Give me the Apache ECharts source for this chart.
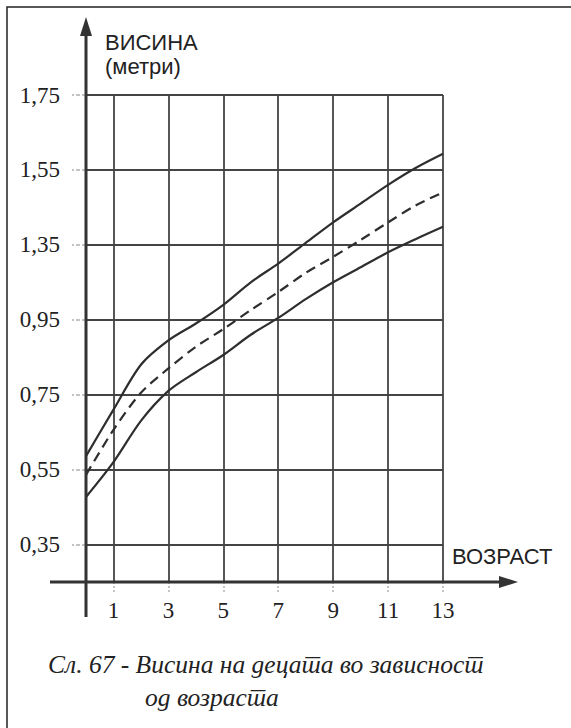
<!DOCTYPE html>
<html lang="mk">
<head>
<meta charset="utf-8">
<script src="https://cdn.jsdelivr.net/npm/echarts@6/dist/echarts.min.js"></script>
<style>
  html, body { margin: 0; padding: 0; background: #fff; }
  #chart { width: 571px; height: 728px; }
</style>
</head>
<body>
<div id="chart"></div>
<script>
// Age in years along the horizontal axis
const ages = [0, 1, 2, 3, 4, 5, 6, 7, 8, 9, 10, 11, 12, 13];

// Height curves, in vertical-axis units (one grid row = 0.1)
const upperHeight = [0.586, 0.71, 0.83, 0.895, 0.94, 0.99, 1.05, 1.10, 1.155, 1.21, 1.26, 1.31, 1.355, 1.393];
const meanHeight  = [0.536, 0.656, 0.755, 0.82, 0.878, 0.925, 0.976, 1.024, 1.075, 1.118, 1.163, 1.21, 1.255, 1.29];
const lowerHeight = [0.477, 0.57, 0.68, 0.76, 0.81, 0.856, 0.91, 0.955, 1.005, 1.05, 1.09, 1.13, 1.165, 1.198];

// Tick positions and the text printed at them
const yTickValues = [0.35, 0.55, 0.75, 0.95, 1.15, 1.35, 1.55];
const yTickLabels = ['0,35', '0,55', '0,75', '0,95', '1,35', '1,55', '1,75'];
const xTickValues = [1, 3, 5, 7, 9, 11, 13];

// Plot area layout
const G = { left: 86, top: 95, width: 357, height: 487 };
const baseY = G.top + G.height;
const INK = '#222';
const SERIF = '"Liberation Serif", "Times New Roman", serif';
const SANS = '"Liberation Sans", Arial, sans-serif';

const pairs = (ys) => ages.map((a, i) => [a, ys[i]]);
const findTick = (list, v) => list.findIndex(t => Math.abs(t - v) < 1e-6);

const chart = echarts.init(document.getElementById('chart'), null, { renderer: 'svg' });

const curve = (name, ys, dashed) => ({
  name,
  type: 'line',
  data: pairs(ys),
  smooth: 0.3,
  showSymbol: false,
  silent: true,
  z: 5,
  lineStyle: { color: '#2e2e2e', width: 2.2, type: dashed ? [10, 6] : 'solid' }
});

chart.setOption({
  animation: false,
  backgroundColor: '#fff',
  textStyle: { fontFamily: SERIF },
  title: [
    {
      text: 'ВИСИНА\n(метри)',
      left: 105, top: 30, padding: 0,
      textStyle: { fontFamily: SANS, fontSize: 22, fontWeight: 'normal', color: INK, lineHeight: 24 }
    },
    {
      text: 'ВОЗРАСТ',
      left: 452, top: 545, padding: 0,
      textStyle: { fontFamily: SANS, fontSize: 22, fontWeight: 'normal', color: INK }
    },
    {
      text: 'Сл. 67 - Висина на децата во зависност',
      left: 48, top: 651, padding: 0,
      textStyle: { fontFamily: SERIF, fontStyle: 'italic', fontSize: 25.5, fontWeight: 'normal', color: INK }
    },
    {
      text: 'од возраста',
      left: 145, top: 684, padding: 0,
      textStyle: { fontFamily: SERIF, fontStyle: 'italic', fontSize: 25.5, fontWeight: 'normal', color: INK }
    }
  ],
  grid: { left: G.left, top: G.top, width: G.width, height: G.height },
  xAxis: {
    type: 'value',
    min: 0, max: 13, interval: 1,
    axisLine: { show: false },
    axisTick: {
      show: true, customValues: xTickValues, length: 10,
      lineStyle: { color: '#c4c4c4', width: 2, type: [2, 2] }
    },
    axisLabel: {
      show: true, margin: 17, showMinLabel: true, showMaxLabel: true,
      fontFamily: SERIF, fontSize: 23, color: INK,
      formatter: (v) => (findTick(xTickValues, v) >= 0 ? String(v) : '')
    },
    splitLine: { show: true, lineStyle: { color: '#444', width: 1.8 } }
  },
  yAxis: {
    type: 'value',
    min: 0.25, max: 1.55, interval: 0.1,
    axisLine: { show: false },
    axisTick: {
      show: true, customValues: yTickValues, length: 14,
      lineStyle: { color: '#c4c4c4', width: 2, type: [4, 2] }
    },
    axisLabel: {
      show: true, margin: 26, showMinLabel: true, showMaxLabel: true,
      fontFamily: SERIF, fontSize: 23, color: INK,
      formatter: (v) => {
        const i = findTick(yTickValues, v);
        return i >= 0 ? yTickLabels[i] : '';
      }
    },
    splitLine: { show: true, lineStyle: { color: '#444', width: 1.8 } }
  },
  series: [
    curve('upper', upperHeight, false),
    curve('mean', meanHeight, true),
    curve('lower', lowerHeight, false)
  ],
  graphic: [
    // figure frame (left and top edges)
    {
      type: 'polyline', silent: true, z: 10,
      shape: { points: [[7, 728], [7, 7], [571, 7]] },
      style: { stroke: '#222', lineWidth: 1.5, fill: null }
    },
    // vertical axis with arrow
    {
      type: 'line', silent: true, z: 10,
      shape: { x1: G.left, y1: baseY + 35, x2: G.left, y2: 30 },
      style: { stroke: '#333', lineWidth: 3 }
    },
    {
      type: 'polygon', silent: true, z: 10,
      shape: { points: [[G.left, 17], [G.left - 6, 36], [G.left + 6, 36]] },
      style: { fill: '#333' }
    },
    // horizontal axis with arrow
    {
      type: 'line', silent: true, z: 10,
      shape: { x1: G.left - 36, y1: baseY, x2: 505, y2: baseY },
      style: { stroke: '#333', lineWidth: 3 }
    },
    {
      type: 'polygon', silent: true, z: 10,
      shape: { points: [[518, baseY], [499, baseY - 6], [499, baseY + 6]] },
      style: { fill: '#333' }
    }
  ]
});
</script>
</body>
</html>
